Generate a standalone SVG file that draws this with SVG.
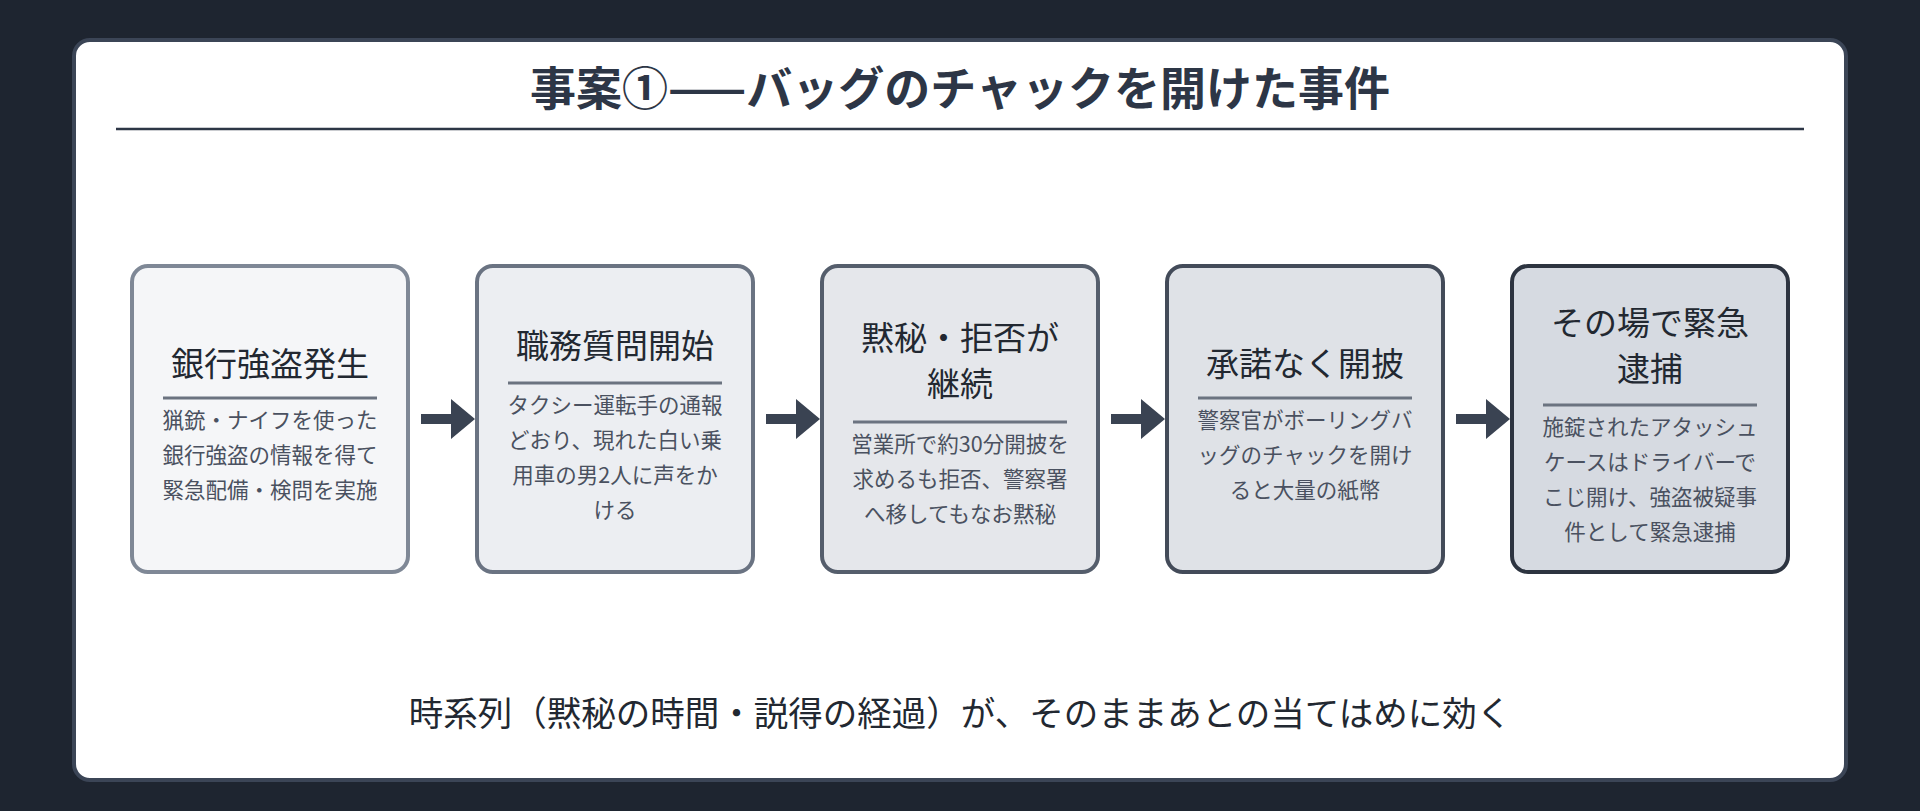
<svg xmlns="http://www.w3.org/2000/svg" width="1920" height="811" viewBox="0 0 1920 811">
<style>
text{font-family:"Noto Sans CJK JP","Noto Sans",sans-serif;text-anchor:middle;fill:#222831}
.t{font-size:33px}
.b{font-size:21.5px;fill:#4a5160}
.sep{stroke:#6b7380;stroke-width:3}
.box{stroke-width:4}
</style>
<defs>
<marker id="ah" viewBox="0 0 10 10" refX="0" refY="5" markerWidth="2.6" markerHeight="5.2" orient="auto" markerUnits="userSpaceOnUse"><path d="M0,0L10,5L0,10z" fill="#3a4352"/></marker>
</defs>
<rect width="1920" height="811" fill="#1e2530"/>
<rect x="74" y="40" width="1772" height="740" rx="16" fill="#ffffff" stroke="#3b4556" stroke-width="4"/>
<text x="960" y="105" style="font-size:46px;font-weight:bold;fill:#2d3646">事案①——バッグのチャックを開けた事件</text>
<line x1="116" y1="129" x2="1804" y2="129" stroke="#2d3646" stroke-width="2.5"/>
<g id="connectors" fill="#3a4352">
<path d="M421,414h30v-15l24,20l-24,20v-15h-30z"/>
<path d="M766,414h30v-15l24,20l-24,20v-15h-30z"/>
<path d="M1111,414h30v-15l24,20l-24,20v-15h-30z"/>
<path d="M1456,414h30v-15l24,20l-24,20v-15h-30z"/>
</g>
<g id="n1"><rect class="box" x="132" y="266" width="276" height="306" rx="16" fill="#f5f6f8" stroke="#7f8896"/>
<text class="t" x="270" y="376">銀行強盗発生</text><line class="sep" x1="163" y1="398" x2="377" y2="398"/>
<text class="b" x="270" y="428">猟銃・ナイフを使った</text><text class="b" x="270" y="463">銀行強盗の情報を得て</text><text class="b" x="270" y="498">緊急配備・検問を実施</text></g>
<g id="n2"><rect class="box" x="477" y="266" width="276" height="306" rx="16" fill="#eceef2" stroke="#6a7382"/>
<text class="t" x="615" y="358">職務質問開始</text><line class="sep" x1="508" y1="383" x2="722" y2="383"/>
<text class="b" x="615" y="413">タクシー運転手の通報</text><text class="b" x="615" y="448">どおり、現れた白い乗</text><text class="b" x="615" y="483">用車の男2人に声をか</text><text class="b" x="615" y="518">ける</text></g>
<g id="n3"><rect class="box" x="822" y="266" width="276" height="306" rx="16" fill="#e5e7eb" stroke="#555e6c"/>
<text class="t" x="960" y="350">黙秘・拒否が</text><text class="t" x="960" y="396">継続</text><line class="sep" x1="853" y1="422" x2="1067" y2="422"/>
<text class="b" x="960" y="452">営業所で約30分開披を</text><text class="b" x="960" y="487">求めるも拒否、警察署</text><text class="b" x="960" y="522">へ移してもなお黙秘</text></g>
<g id="n4"><rect class="box" x="1167" y="266" width="276" height="306" rx="16" fill="#dfe2e7" stroke="#434b59"/>
<text class="t" x="1305" y="376">承諾なく開披</text><line class="sep" x1="1198" y1="398" x2="1412" y2="398"/>
<text class="b" x="1305" y="428">警察官がボーリングバ</text><text class="b" x="1305" y="463">ッグのチャックを開け</text><text class="b" x="1305" y="498">ると大量の紙幣</text></g>
<g id="n5"><rect class="box" x="1512" y="266" width="276" height="306" rx="16" fill="#d6dae1" stroke="#2d3440"/>
<text class="t" x="1650" y="335">その場で緊急</text><text class="t" x="1650" y="381">逮捕</text><line class="sep" x1="1543" y1="405" x2="1757" y2="405"/>
<text class="b" x="1650" y="435">施錠されたアタッシュ</text><text class="b" x="1650" y="470">ケースはドライバーで</text><text class="b" x="1650" y="505">こじ開け、強盗被疑事</text><text class="b" x="1650" y="540">件として緊急逮捕</text></g>
<text x="960" y="726" style="font-size:34.5px">時系列（黙秘の時間・説得の経過）が、そのままあとの当てはめに効く</text>
</svg>
